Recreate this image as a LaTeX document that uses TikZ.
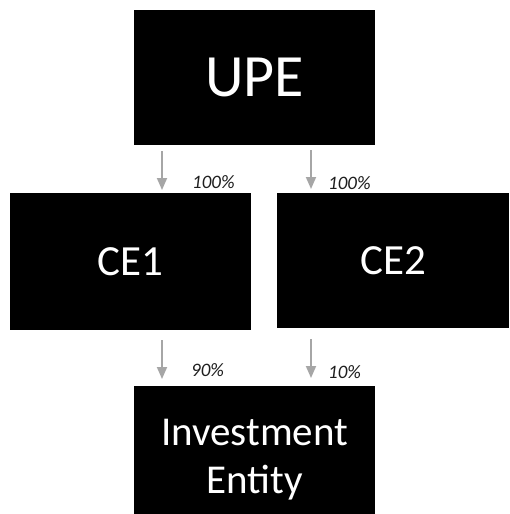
\documentclass[tikz,border=0pt]{standalone}
\usepackage{fontspec}
\setmainfont{Carlito}
\usetikzlibrary{arrows.meta}
\begin{document}
\begin{tikzpicture}[x=1pt,y=-1pt,
  entity/.style={fill=black,text=white,inner sep=0pt,anchor=north west},
  own/.style={draw={rgb,255:red,166;green,166;blue,166},line width=1.8pt,
    -{Triangle[length=12pt,width=10pt]}},
  pct/.style={font=\fontsize{19}{19}\selectfont\itshape,text={rgb,255:red,30;green,30;blue,30},inner sep=0pt}]
\useasboundingbox (0,0) rectangle (509,514);
% entities
\node[entity,minimum width=241pt,minimum height=135pt,font=\fontsize{60}{60}\selectfont] (upe) at (134,10) {UPE};
\node[entity,minimum width=241pt,minimum height=137pt,font=\fontsize{43}{43}\selectfont] (ce1) at (10,193) {CE1};
\node[entity,minimum width=232pt,minimum height=135pt,font=\fontsize{43}{43}\selectfont] (ce2) at (277,193) {CE2};
\node[entity,minimum width=241pt,minimum height=128pt] (ie) at (134,386) {};
\node[text=white,inner sep=0pt,align=center,font=\fontsize{41}{48}\selectfont] (ietext) at ([yshift=-9pt]ie.center) {Investment\\Entity};
% ownership arrows
\coordinate (a1s) at (162,151); \coordinate (a1e) at (162,190);
\coordinate (a2s) at (311,150); \coordinate (a2e) at (311,189);
\coordinate (a3s) at (162,340); \coordinate (a3e) at (162,379);
\coordinate (a4s) at (311,339); \coordinate (a4e) at (311,378);
\draw[own] (a1s) -- (a1e);
\draw[own] (a2s) -- (a2e);
\draw[own] (a3s) -- (a3e);
\draw[own] (a4s) -- (a4e);
% ownership percentages
\node[pct,anchor=west] (p1) at (192,182) {100\%};
\node[pct,anchor=west] (p2) at (328,183) {100\%};
\node[pct,anchor=west] (p3) at (191,370) {90\%};
\node[pct,anchor=west] (p4) at (328,372) {10\%};
\end{tikzpicture}
\end{document}
